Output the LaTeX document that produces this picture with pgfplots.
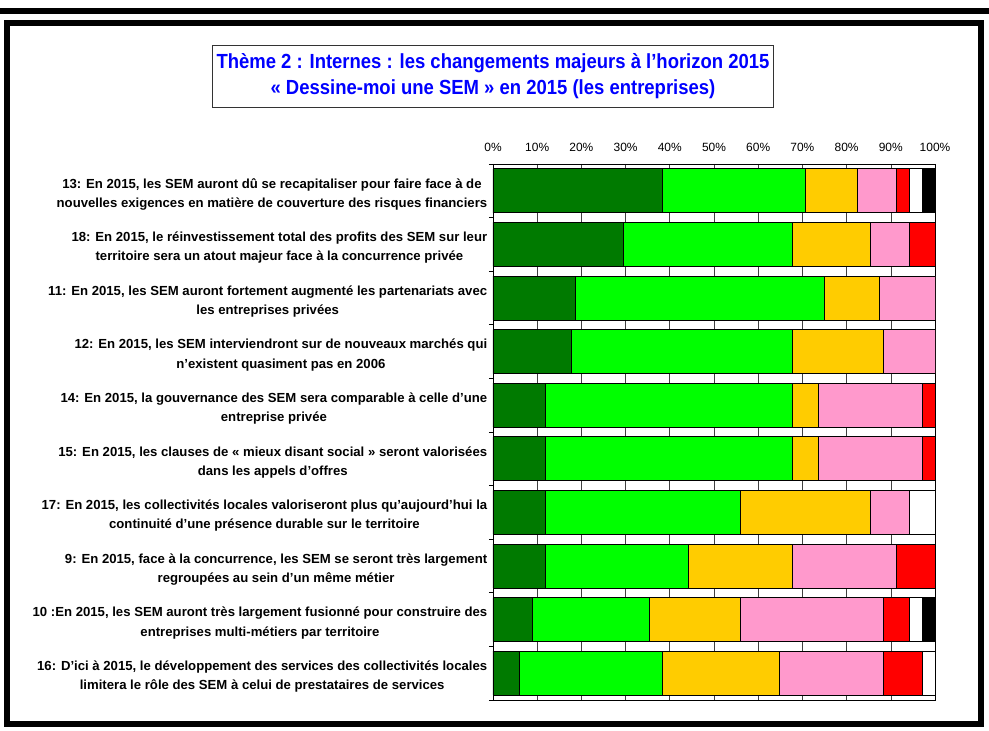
\documentclass[border=0pt]{standalone}
\usepackage{fontspec}
\setmainfont{Liberation Sans}
\newfontfamily\narrowfont[FakeStretch=0.905]{Liberation Sans}
\usepackage{pgfplots}
\usepackage{pgfplotstable}
\pgfplotsset{compat=1.18}
\definecolor{dgreen}{RGB}{0,122,0}
\definecolor{lgreen}{RGB}{0,255,0}
\definecolor{cyellow}{RGB}{255,204,0}
\definecolor{cpink}{RGB}{255,153,204}
\definecolor{cred}{RGB}{255,0,0}
\definecolor{tblue}{RGB}{0,0,255}
% percentages (answers out of 34, except row 2)
\pgfplotstableread{
y a b c d e f g
0 38.24 32.35 11.76 8.82 2.94 2.94 2.94
1 29.41 38.24 17.65 8.82 5.88 0 0
2 18.75 56.25 12.50 12.50 0 0 0
3 17.65 50.00 20.59 11.76 0 0 0
4 11.76 55.88 5.88 23.53 2.94 0 0
5 11.76 55.88 5.88 23.53 2.94 0 0
6 11.76 44.12 29.41 8.82 0 5.88 0
7 11.76 32.35 23.53 23.53 8.82 0 0
8 8.82 26.47 20.59 32.35 5.88 2.94 2.94
9 5.88 32.35 26.47 23.53 8.82 2.94 0
}\datatable
\begin{document}
\begin{tikzpicture}[x=1bp,y=1bp]
\path[use as bounding box] (-493,-31) rectangle (496,700);
% frame
\fill[black] (-493,686) rectangle (496,692);
\draw[line width=6bp] (-486,677) rectangle (488,-24);
% title
\node[draw=black!80, line width=0.8bp, minimum width=561bp, minimum height=62bp, align=center,
  text=tblue, font=\narrowfont\bfseries\fontsize{20.5}{26.5}\selectfont, inner sep=0pt] at (0,624)
  {Thème 2 : Internes : les changements majeurs à l’horizon 2015\\« Dessine-moi une SEM » en 2015 (les entreprises)};
\begin{axis}[
  at={(0,0)}, anchor=south west,
  scale only axis, width=442bp, height=536bp,
  xbar stacked, bar width=0.82,
  xmin=0, xmax=100, ymin=-0.5, ymax=9.5, y dir=reverse,
  xtick={0,10,...,100},
  xticklabels={0\%,10\%,20\%,30\%,40\%,50\%,60\%,70\%,80\%,90\%,100\%},
  xtick pos=right, xticklabel pos=right,
  xticklabel style={font=\fontsize{12}{13}\selectfont, yshift=4.5bp},
  major x tick style={draw=none},
  xmajorgrids, grid style={black!75, line width=0.6bp},
  ytick={0,...,9},
  ytick pos=left,
  major y tick style={draw=none},
  minor ytick={-0.5,0.5,...,9.5},
  minor tick length=4bp, tick align=outside,
  minor y tick style={black, line width=0.8bp},
  yticklabel style={align=center, font=\bfseries\fontsize{13.2}{19.2}\selectfont, xshift=2bp, yshift=-3.5bp},
  yticklabels={
    {13: En 2015, les SEM auront dû se recapitaliser pour faire face à de\\nouvelles exigences en matière de couverture des risques financiers},
    {18: En 2015, le réinvestissement total des profits des SEM sur leur\\territoire sera un atout majeur face à la concurrence privée},
    {11: En 2015, les SEM auront fortement augmenté les partenariats avec\\les entreprises privées},
    {12: En 2015, les SEM interviendront sur de nouveaux marchés qui\\n’existent quasiment pas en 2006},
    {14: En 2015, la gouvernance des SEM sera comparable à celle d’une\\entreprise privée},
    {15: En 2015, les clauses de « mieux disant social » seront valorisées\\dans les appels d’offres},
    {17: En 2015, les collectivités locales valoriseront plus qu’aujourd’hui la\\continuité d’une présence durable sur le territoire},
    {9: En 2015, face à la concurrence, les SEM se seront très largement\\regroupées au sein d’un même métier},
    {10 :En 2015, les SEM auront très largement fusionné pour construire des\\entreprises multi-métiers par territoire},
    {16: D’ici à 2015, le développement des services des collectivités locales\\limitera le rôle des SEM à celui de prestataires de services}
  },
  axis line style={black, line width=0.8bp},
  every axis plot/.append style={draw=black, line width=0.8bp},
]
\addplot[fill=dgreen] table[x=a, y=y] {\datatable};
\addplot[fill=lgreen] table[x=b, y=y] {\datatable};
\addplot[fill=cyellow] table[x=c, y=y] {\datatable};
\addplot[fill=cpink] table[x=d, y=y] {\datatable};
\addplot[fill=cred] table[x=e, y=y] {\datatable};
\addplot[fill=white] table[x=f, y=y] {\datatable};
\addplot[fill=black] table[x=g, y=y] {\datatable};
\end{axis}
\end{tikzpicture}
\end{document}
